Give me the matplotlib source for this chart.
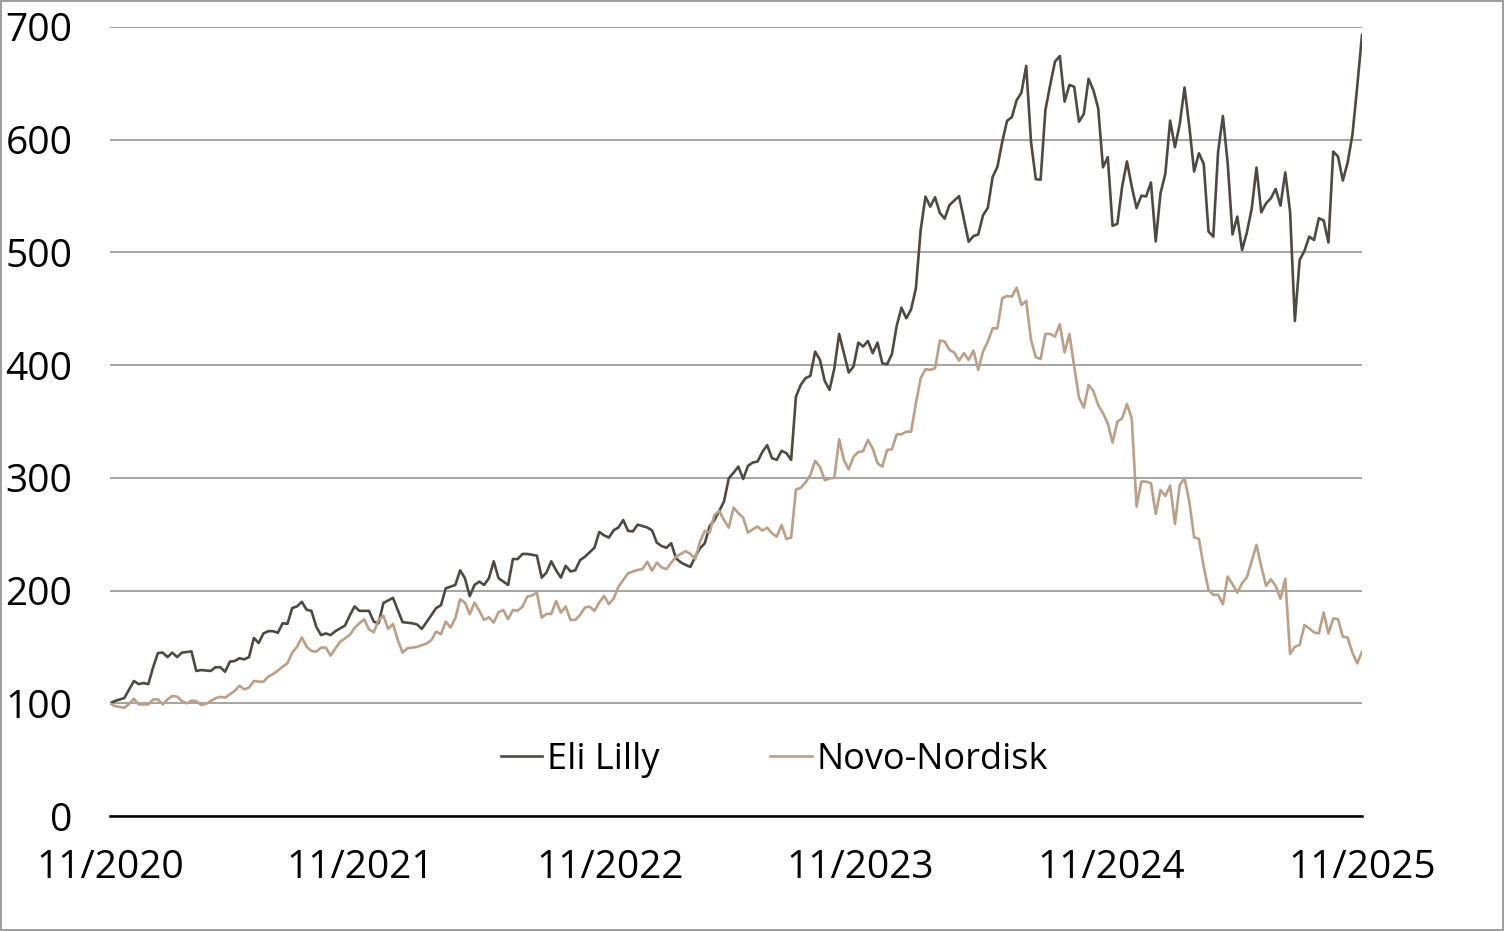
import numpy as np
import pandas as pd
import matplotlib
matplotlib.use("Agg")
import matplotlib.pyplot as plt
from matplotlib.patches import Rectangle

plt.rcParams['font.family'] = ['Open Sans', 'DejaVu Sans']

# weekly index (weeks since start) and indexed price (start = 100)
lilly_week = [0, 1, 3, 5, 6, 7, 8, 9, 10, 11, 12, 13, 14, 15, 17, 18, 19, 21, 22, 23, 24, 25, 26, 27, 28, 29,
              30, 31, 32, 33, 34, 35, 36, 37, 38, 39, 40, 41, 42, 43, 44, 45, 46, 47, 49, 50, 51, 52, 54, 55,
              56, 57, 59, 61, 63, 64, 65, 66, 68, 69, 70, 72, 73, 74, 75, 76, 77, 78, 79, 80, 81, 83, 84, 85,
              86, 87, 89, 90, 91, 92, 93, 94, 95, 96, 97, 98, 99, 101, 102, 103, 104, 105, 106, 107, 108, 109,
              110, 112, 113, 114, 115, 116, 117, 118, 119, 120, 121, 122, 123, 124, 125, 126, 127, 128, 129,
              130, 131, 132, 133, 134, 135, 136, 137, 138, 139, 140, 141, 142, 143, 144, 145, 146, 147, 148,
              149, 150, 151, 152, 153, 154, 155, 156, 157, 158, 159, 160, 161, 162, 163, 164, 165, 166, 167,
              168, 169, 170, 171, 172, 173, 174, 175, 177, 179, 180, 181, 182, 183, 184, 185, 186, 187, 188,
              189, 190, 191, 192, 193, 194, 195, 196, 197, 198, 199, 200, 201, 202, 203, 204, 205, 206, 207,
              208, 209, 210, 211, 212, 213, 214, 215, 216, 217, 218, 219, 220, 221, 222, 223, 224, 225, 226,
              227, 228, 229, 230, 231, 232, 233, 234, 235, 236, 237, 238, 239, 240, 241, 242, 243, 244, 245,
              246, 247, 248, 249, 250, 251, 252, 253, 254, 255, 256, 257, 258, 259, 260, 261]
lilly_value = [100, 102, 104.7, 119.8, 117, 118, 117, 132, 144.6, 145, 141, 145, 141, 145, 146, 128.7, 129.5,
               128.7, 132, 132, 128, 137, 137.5, 140, 139, 141, 158, 153.5, 162, 164, 164, 162.5, 171, 170.5,
               184.5, 186, 190, 183, 182, 168, 160.5, 162, 160.5, 164, 169, 178, 186, 182, 182, 172.4, 171,
               189, 193.5, 172, 171, 170, 166, 172, 184.5, 187, 202, 205, 218, 211, 195, 205, 208, 205, 211,
               226, 211, 205, 228, 228, 232.5, 232.5, 231, 211.5, 216, 226, 218, 211.5, 222, 217, 218, 227,
               230, 238, 252, 249, 247, 253.5, 256, 262.6, 253, 252.5, 258.5, 256, 253.5, 242.5, 239.5, 238,
               242, 228.6, 225, 222.8, 221, 230, 237.5, 242, 257, 262.6, 270.6, 279, 299.6, 304.6, 310, 299,
               310.6, 313.6, 314.5, 323, 329, 317.5, 316, 324, 322, 316, 372, 382.5, 388.5, 390.5, 412, 404.7,
               386, 378, 397, 427.7, 410.6, 393.5, 398.8, 420, 416.5, 421.5, 410.6, 420, 401.7, 400.8, 409.7,
               434.8, 451, 441.6, 449.5, 468, 520, 549.5, 540.6, 549, 535, 530, 542, 550, 509.5, 514.5, 516,
               533, 539.6, 567, 576, 598, 616.7, 620, 635, 641.7, 665.5, 598, 565, 564.5, 626.4, 648.6, 669.3,
               674.3, 633.8, 648.6, 647, 616, 622.8, 654, 644, 628, 575.5, 584.5, 523.6, 525.4, 558.5, 580.7,
               558.5, 539.3, 550.3, 549.7, 562, 509.8, 552.6, 569.8, 617, 593.4, 613.8, 646.3, 611.7, 571.8,
               588, 578.6, 518.6, 514, 589.5, 621, 579, 516, 531.8, 502.2, 517.8, 538.6, 575.3, 535.6, 543.6,
               548, 556.3, 541.5, 571, 536.2, 439.2, 493.4, 501.4, 514, 511, 530.4, 528.3, 508.8, 589.6, 585,
               563.8, 579.8, 604.4, 647.3, 693]

novo_week = [0, 1, 3, 4, 5, 6, 8, 9, 10, 11, 12, 13, 14, 15, 16, 17, 18, 19, 20, 21, 22, 23, 24, 25, 26, 27,
             28, 29, 30, 31, 32, 33, 34, 35, 36, 37, 38, 39, 40, 41, 42, 43, 44, 45, 46, 47, 48, 50, 51, 52,
             53, 54, 55, 56, 57, 58, 59, 60, 61, 62, 64, 66, 67, 68, 69, 70, 71, 72, 73, 74, 75, 76, 77, 78,
             79, 80, 81, 82, 83, 84, 85, 86, 87, 88, 89, 90, 91, 92, 93, 94, 95, 96, 97, 98, 99, 100, 101,
             102, 103, 104, 105, 106, 108, 109, 110, 111, 112, 113, 114, 115, 116, 117, 118, 119, 120, 121,
             122, 123, 124, 125, 126, 127, 128, 129, 130, 131, 132, 133, 134, 135, 136, 137, 138, 139, 140,
             141, 142, 143, 144, 145, 146, 147, 148, 149, 150, 151, 152, 153, 154, 155, 156, 157, 158, 159,
             160, 161, 162, 163, 164, 165, 166, 167, 168, 169, 170, 171, 172, 173, 174, 175, 176, 177, 178,
             179, 180, 181, 182, 183, 184, 185, 186, 187, 188, 189, 190, 191, 192, 193, 194, 195, 196, 197,
             198, 199, 200, 201, 202, 203, 204, 205, 206, 207, 208, 209, 210, 211, 212, 213, 214, 215, 216,
             217, 218, 219, 220, 221, 222, 223, 224, 225, 226, 227, 228, 229, 230, 231, 232, 233, 234, 235,
             236, 237, 238, 239, 240, 241, 242, 243, 244, 245, 246, 247, 248, 249, 250, 251, 252, 253, 254,
             255, 256, 257, 258, 259, 260, 261]
novo_value = [100, 97.6, 96, 99.5, 104, 99, 99, 103.5, 103.5, 99, 103.5, 106.5, 106, 102, 100, 102.3, 102,
              98.5, 99.5, 102, 104.5, 105.7, 105, 108, 111, 115.6, 112.4, 114, 119.8, 119.2, 119.2, 123.7,
              126, 129, 132.5, 135.5, 145, 150.2, 158.5, 150.2, 146.4, 145.8, 149.4, 149.4, 142.3, 148.8,
              154.7, 160.6, 167, 171, 174.5, 165.6, 163, 174, 177.8, 166, 170.4, 156.2, 145, 148.8, 150, 153,
              156, 163.6, 161.3, 172.5, 167.2, 175.5, 192.3, 189.4, 179, 189.4, 182, 174, 176.3, 171.6, 180.8,
              182.8, 174.5, 182.8, 182.2, 185.8, 194.7, 195.6, 198.2, 176, 179.3, 179.3, 190.8, 180.4, 185.8,
              174, 174, 178.4, 184.9, 185.8, 182, 189.4, 195.3, 188, 193, 203.5, 215.3, 216.8, 218.3, 219,
              225.6, 217.7, 224.8, 220.6, 219, 224.8, 230, 232.5, 235, 232.5, 227.7, 243.4, 253, 251.4, 267,
              270.6, 262.6, 255.8, 273.6, 268.6, 264.7, 251.4, 254.4, 256.8, 253.2, 255.8, 250.8, 247.9,
              258.2, 245.8, 247, 289.7, 291.2, 295.9, 302.4, 315.2, 309.8, 298, 299.5, 300, 334.2, 315.8,
              307.5, 318.8, 323, 323.6, 333.6, 326, 313, 310, 324.7, 325.3, 338.6, 338.6, 341, 341, 366,
              388.4, 396.4, 395.8, 397.3, 421.8, 421, 413.5, 411.2, 404, 410.6, 404.7, 413, 395.8, 412.1, 421,
              432.7, 432.7, 459.3, 461.4, 460.8, 468.8, 453.4, 457, 422.4, 407, 405.5, 427.7, 427.7, 425.4,
              436.3, 411.2, 427.7, 398.8, 371.2, 362.3, 382.4, 377, 364.7, 357.3, 348.4, 331.3, 349.9, 352.8,
              365.6, 352.8, 274.5, 296.7, 296.7, 295.2, 268, 289.3, 284, 293.1, 259.1, 293.7, 299.6, 278.9,
              247.3, 245.8, 221.3, 200.6, 196.2, 196.2, 187.9, 212.4, 205.6, 198.2, 206.5, 211.8, 226.3,
              240.5, 221.3, 204.2, 210, 204.2, 192.7, 210.4, 143.7, 150.2, 151.7, 169.4, 166.5, 162.9, 162,
              180.7, 162, 175.3, 174.7, 159, 158.4, 144.8, 135.4, 145.8]

start = pd.Timestamp("2020-11-06")
tick_years = [2020, 2021, 2022, 2023, 2024, 2025]
y_ticks = [0, 100, 200, 300, 400, 500, 600, 700]

lilly_dates = start + pd.to_timedelta(np.array(lilly_week) * 7, unit="D")
novo_dates = start + pd.to_timedelta(np.array(novo_week) * 7, unit="D")
end = start + pd.Timedelta(weeks=max(lilly_week))

fig = plt.figure(figsize=(15.04, 9.31), dpi=100)
ax = fig.add_axes([0.0731, 0.1235, 0.8325, 0.8475])

ax.plot(lilly_dates, lilly_value, color="#4e4943", lw=1.9, label="Eli Lilly")
ax.plot(novo_dates, novo_value, color="#bb9f86", lw=1.9, label="Novo-Nordisk")

ax.set_ylim(0, 700)
ax.set_xlim(start, end)
ax.set_yticks(y_ticks)
ax.grid(axis="y", color="#8c8c8c", lw=1.1)
ax.set_axisbelow(True)

ticks = [start + pd.DateOffset(years=k) for k in range(len(tick_years))]
ticks[-1] = end
ax.set_xticks(ticks)
ax.set_xticklabels(["11/%d" % y for y in tick_years])

for s in ["top", "right", "left"]:
    ax.spines[s].set_visible(False)
ax.spines["bottom"].set_color("black")
ax.spines["bottom"].set_linewidth(1.8)
ax.tick_params(axis="both", length=0, labelsize=28, colors="black")
ax.tick_params(axis="y", pad=27)
ax.tick_params(axis="x", pad=24)

fig.legend(loc="center left", bbox_to_anchor=(0.333, 0.184), ncol=2, frameon=False,
           fontsize=26, handlelength=1.14, handletextpad=0.14, columnspacing=3.07,
           borderpad=0, borderaxespad=0)

# thin frame round the whole picture
fig.patches.append(Rectangle((0.0005, 0.0008), 0.999, 0.9984, transform=fig.transFigure,
                             fill=False, edgecolor="#8c8c8c", lw=1.2))

fig.savefig("out.png", dpi=100)
